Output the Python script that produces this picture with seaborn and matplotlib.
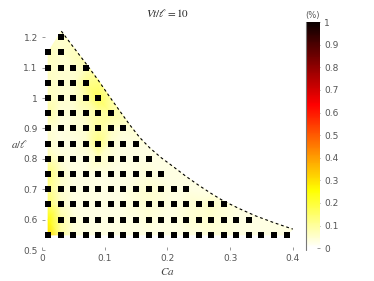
import numpy as np
import matplotlib
matplotlib.use("Agg")
import matplotlib.pyplot as plt
import matplotlib.tri as mtri
import seaborn as sns

# grid of simulated cases
ca_grid = [0.01, 0.03, 0.05, 0.07, 0.09, 0.11, 0.13, 0.15, 0.17, 0.19,
           0.21, 0.23, 0.25, 0.27, 0.29, 0.31, 0.33, 0.35, 0.37, 0.39]
a_rows = [0.55, 0.60, 0.65, 0.70, 0.75, 0.80, 0.85, 0.90, 0.95, 1.00, 1.05, 1.10, 1.15, 1.20]
row_first = [0, 0, 0, 0, 0, 0, 0, 0, 0, 0, 0, 0, 0, 1]
row_count = [20, 17, 15, 12, 10, 9, 8, 7, 6, 5, 4, 4, 2, 1]
missing_points = [(0.01, 0.60)]

field_rows = [
    [0.30, 0.10, 0.04, 0.03, 0.03, 0.03, 0.03, 0.03, 0.03, 0.03,
     0.03, 0.03, 0.03, 0.04, 0.04, 0.03, 0.03, 0.03, 0.03, 0.03],
    [0.26, 0.09, 0.04, 0.03, 0.03, 0.03, 0.03, 0.03, 0.04, 0.03,
     0.03, 0.04, 0.05, 0.05, 0.04, 0.03, 0.03],
    [0.15, 0.06, 0.03, 0.03, 0.03, 0.03, 0.03, 0.04, 0.05, 0.04,
     0.03, 0.04, 0.05, 0.06, 0.04],
    [0.12, 0.05, 0.03, 0.03, 0.03, 0.03, 0.03, 0.04, 0.05, 0.04, 0.03, 0.03],
    [0.14, 0.06, 0.03, 0.03, 0.03, 0.03, 0.03, 0.03, 0.04, 0.03],
    [0.08, 0.04, 0.03, 0.03, 0.06, 0.04, 0.03, 0.03, 0.03],
    [0.05, 0.03, 0.03, 0.05, 0.13, 0.05, 0.03, 0.03],
    [0.05, 0.03, 0.04, 0.05, 0.10, 0.06, 0.04],
    [0.09, 0.04, 0.04, 0.06, 0.09, 0.10],
    [0.07, 0.05, 0.05, 0.09, 0.17],
    [0.06, 0.05, 0.05, 0.11],
    [0.06, 0.05, 0.05, 0.07],
    [0.07, 0.05],
    [0.05],
]

# dashed limit curve
curve_ca = [0.031, 0.050, 0.070, 0.090, 0.108, 0.125, 0.140, 0.156, 0.172, 0.190,
            0.209, 0.230, 0.250, 0.270, 0.289, 0.315, 0.340, 0.370, 0.400]
curve_a = [1.220, 1.168, 1.114, 1.058, 1.004, 0.955, 0.912, 0.870, 0.836, 0.804,
           0.775, 0.742, 0.713, 0.686, 0.662, 0.636, 0.613, 0.590, 0.569]
curve_val = [0.05, 0.06, 0.08, 0.12, 0.10, 0.07, 0.05, 0.04, 0.03, 0.03,
             0.03, 0.03, 0.03, 0.03, 0.04, 0.03, 0.03, 0.03, 0.03]

cb_ticks = [0, 0.1, 0.2, 0.3, 0.4, 0.5, 0.6, 0.7, 0.8, 0.9, 1]
x_ticks = [0, 0.1, 0.2, 0.3, 0.4]
y_ticks = [0.5, 0.6, 0.7, 0.8, 0.9, 1, 1.1, 1.2]

sns.set_theme(style="white")
plt.rcParams["font.family"] = ["DejaVu Sans"]
plt.rcParams["mathtext.fontset"] = "stix"

# collect point coordinates
pts_x, pts_y, pts_v = [], [], []
mk_x, mk_y = [], []
for a, first, n, vals in zip(a_rows, row_first, row_count, field_rows):
    for k in range(n):
        ca = ca_grid[first + k]
        pts_x.append(ca)
        pts_y.append(a)
        pts_v.append(vals[k])
        if (ca, a) not in missing_points:
            mk_x.append(ca)
            mk_y.append(a)
n_grid = len(pts_x)
all_x = np.array(pts_x + curve_ca)
all_y = np.array(pts_y + curve_a)
all_v = np.array(pts_v + curve_val)

tri = mtri.Triangulation(all_x, all_y)
on_curve = np.arange(len(all_x)) >= n_grid
tri.set_mask(on_curve[tri.triangles].all(axis=1))

fig = plt.figure(figsize=(3.74, 2.81), dpi=100)
ax = fig.add_axes([0.112, 0.110, 0.671, 0.790])
tpc = ax.tripcolor(tri, all_v, shading="gouraud", cmap="hot_r", vmin=0, vmax=1)

sns.lineplot(x=curve_ca, y=curve_a, sort=False, ax=ax, color="black",
             linewidth=0.8, linestyle=(0, (2.5, 2.5)))
sns.scatterplot(x=mk_x, y=mk_y, ax=ax, marker="s", color="black", s=13,
                linewidth=0)

ax.set_xlim(0, 0.4)
ax.set_ylim(0.5, 1.23)
ax.set_xticks(x_ticks)
ax.set_xticklabels(["0", "0.1", "0.2", "0.3", "0.4"])
ax.set_yticks(y_ticks)
ax.set_yticklabels(["0.5", "0.6", "0.7", "0.8", "0.9", "1", "1.1", "1.2"])
for s in ax.spines.values():
    s.set_visible(False)
ax.tick_params(direction="in", length=2, width=0.6, colors="#888888",
               labelsize=6.5, labelcolor="#555555", pad=3,
               bottom=True, left=True)
ax.set_xlabel("$Ca$", fontsize=8, color="#444444", labelpad=2)
ax.set_ylabel("$a/\\ell$", fontsize=8, color="#444444", rotation=0,
              ha="center", va="center")
ax.yaxis.set_label_coords(-0.088, 0.48)
ax.set_title("$Vt/\\ell = 10$", fontsize=8, color="#222222", pad=8)

cax = fig.add_axes([0.818, 0.117, 0.037, 0.804])
cb = fig.colorbar(tpc, cax=cax, ticks=cb_ticks)
cb.outline.set_visible(False)
cb.ax.set_yticklabels(["0", "0.1", "0.2", "0.3", "0.4", "0.5", "0.6", "0.7", "0.8", "0.9", "1"])
cax.plot([0, 0], [-0.01, 1], transform=cax.transAxes, color="#777777",
         linewidth=0.8, clip_on=False)
cax.tick_params(direction="in", length=2, width=0.6, colors="#888888",
                labelsize=6.5, labelcolor="#555555", pad=3, right=True)
cax.set_title("(%)", fontsize=6, color="#555555", pad=3)

fig.savefig("out.png", dpi=100)
